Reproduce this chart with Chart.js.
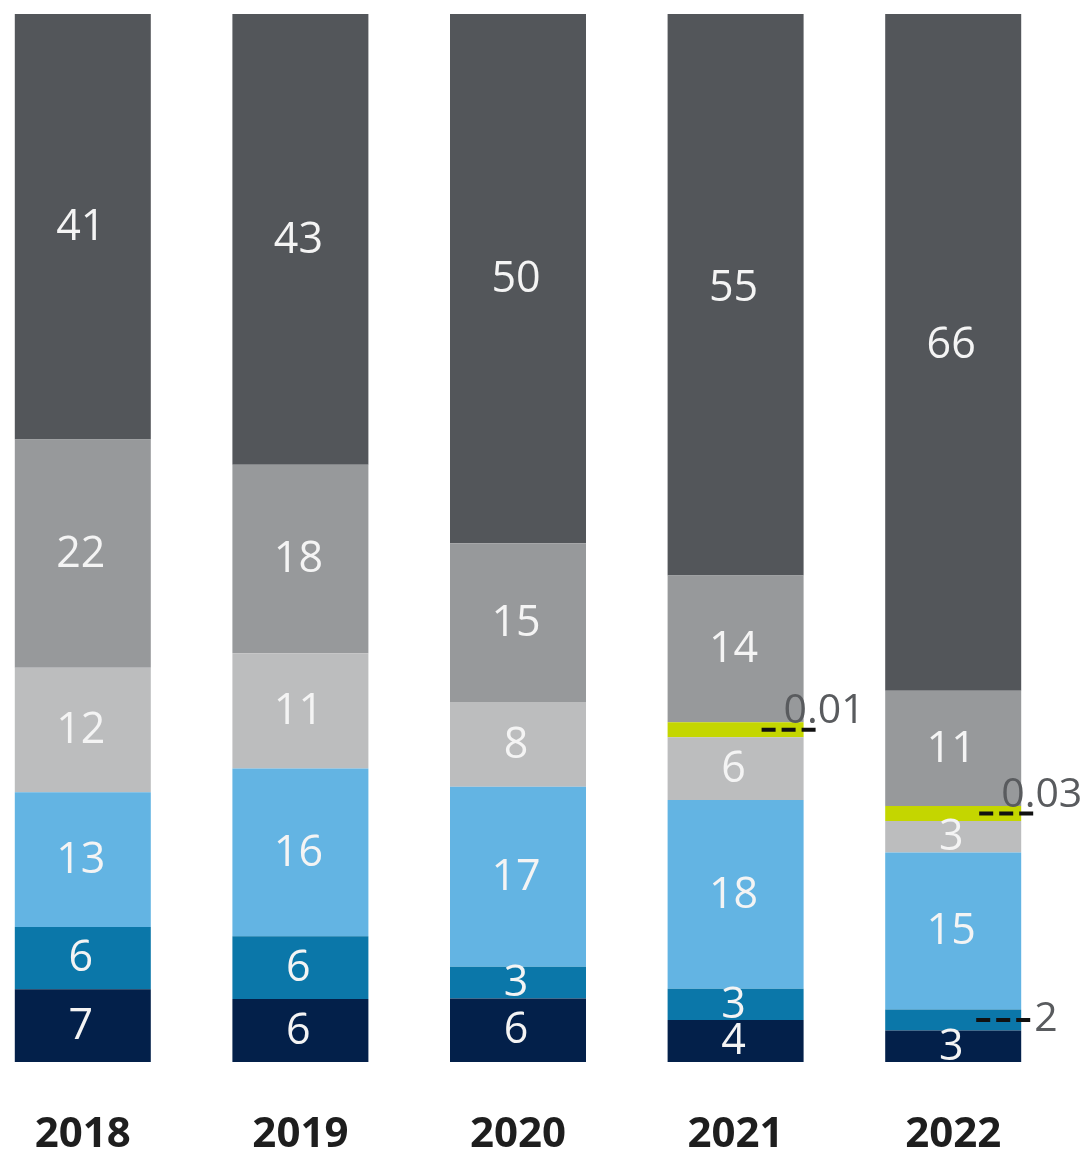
<!DOCTYPE html>
<html>
<head>
<meta charset="utf-8">
<script src="https://cdn.jsdelivr.net/npm/chart.js@4.4.0/dist/chart.umd.min.js"></script>
<style>
    html, body { margin: 0; padding: 0; background: #ffffff; overflow: hidden; }
    #wrap { position: relative; width: 1084px; height: 1154px; overflow: hidden; }
    #chart { position: absolute; left: -26px; top: 0; }
</style>
</head>
<body>
<div id="wrap">
    <canvas id="chart" width="1110" height="1154"></canvas>
</div>
<script>
// categories
const years = ['2018', '2019', '2020', '2021', '2022'];

// series values, bottom of the stack to the top
const navy      = [7, 6, 6, 4, 3];
const darkBlue  = [6, 6, 3, 3, 2];
const lightBlue = [13, 16, 17, 18, 15];
const lightGray = [12, 11, 8, 6, 3];
const green     = [null, null, null, 0.01, 0.03];
const midGray   = [22, 18, 15, 14, 11];
const darkGray  = [41, 43, 50, 55, 66];

const seriesList = [
    { values: navy,      color: '#03204a' },
    { values: darkBlue,  color: '#0b77a9' },
    { values: lightBlue, color: '#63b4e3' },
    { values: lightGray, color: '#bcbdbe' },
    { values: green,     color: '#c4d600', outside: true },
    { values: midGray,   color: '#97999b' },
    { values: darkGray,  color: '#53565a' }
];

// values written outside the bar with a dashed leader: [dataset, year, style]
const outsideLabels = [
    [4, 3, 'above'],
    [4, 4, 'above'],
    [1, 4, 'side']
];

// each column is drawn as 100 % tall (the shares of the year)
const totals = years.map((y, i) => seriesList.reduce((s, d) => s + (d.values[i] || 0), 0));

const datasets = seriesList.map((d, k) => ({
    label: 's' + k,
    data: d.values.map((v, i) => v == null ? null : v / totals[i] * 100),
    raw: d.values,
    backgroundColor: d.color,
    borderWidth: 0,
    barPercentage: 0.625,
    categoryPercentage: 1,
    minBarLength: d.outside ? 15 : 0,
    outside: !!d.outside
}));

const isOutside = (di, i) => outsideLabels.some(o => o[0] === di && o[1] === i);

// 値ラベル（バー内の白文字と外側の引き出し線付きラベル）
const valueLabels = {
    id: 'valueLabels',
    afterDatasetsDraw(chart) {
        const ctx = chart.ctx;
        ctx.save();
        chart.data.datasets.forEach((ds, di) => {
            const meta = chart.getDatasetMeta(di);
            meta.data.forEach((el, i) => {
                const v = ds.raw[i];
                if (v == null || ds.outside || isOutside(di, i)) return;
                const cy = (el.y + el.base) / 2;
                ctx.font = '43px "Open Sans"';
                ctx.fillStyle = '#f4f4f4';
                ctx.textAlign = 'center';
                ctx.textBaseline = 'middle';
                ctx.fillText(String(v), el.x - 2, cy + 1);
            });
        });

        outsideLabels.forEach(([di, i, style]) => {
            const el = chart.getDatasetMeta(di).data[i];
            const v = chart.data.datasets[di].raw[i];
            if (!el || v == null) return;
            const right = el.x + el.width / 2;
            const cy = (el.y + el.base) / 2;
            const x0 = right - (style === 'side' ? 45 : 42);
            const x1 = right + (style === 'side' ? 13 : 14);
            ctx.strokeStyle = '#111111';
            ctx.lineWidth = 4;
            ctx.setLineDash([14, 6]);
            ctx.beginPath();
            ctx.moveTo(x0, cy);
            ctx.lineTo(x1, cy);
            ctx.stroke();
            ctx.setLineDash([]);
            ctx.font = '41px "Open Sans"';
            ctx.fillStyle = '#595b5e';
            ctx.textAlign = 'left';
            ctx.textBaseline = 'middle';
            if (style === 'side') {
                ctx.fillText(String(v), x1, cy - 1);
            } else {
                ctx.fillText(String(v), right - 20, cy - 18);
            }
        });
        ctx.restore();
    }
};

new Chart(document.getElementById('chart'), {
    type: 'bar',
    data: { labels: years, datasets: datasets },
    options: {
        responsive: false,
        devicePixelRatio: 1,
        animation: false,
        layout: { padding: { top: 14, right: 22, left: 0, bottom: 0 } },
        plugins: {
            legend: { display: false },
            tooltip: { enabled: false }
        },
        scales: {
            x: {
                stacked: true,
                grid: { display: false },
                border: { display: false },
                ticks: {
                    color: '#1e1e1e',
                    font: { family: '"Open Sans"', size: 42, weight: 'bold' },
                    padding: 40
                },
                afterFit(scale) { scale.height = 92; }
            },
            y: {
                stacked: true,
                display: false,
                min: 0,
                max: 100
            }
        }
    },
    plugins: [valueLabels]
});
</script>
</body>
</html>
